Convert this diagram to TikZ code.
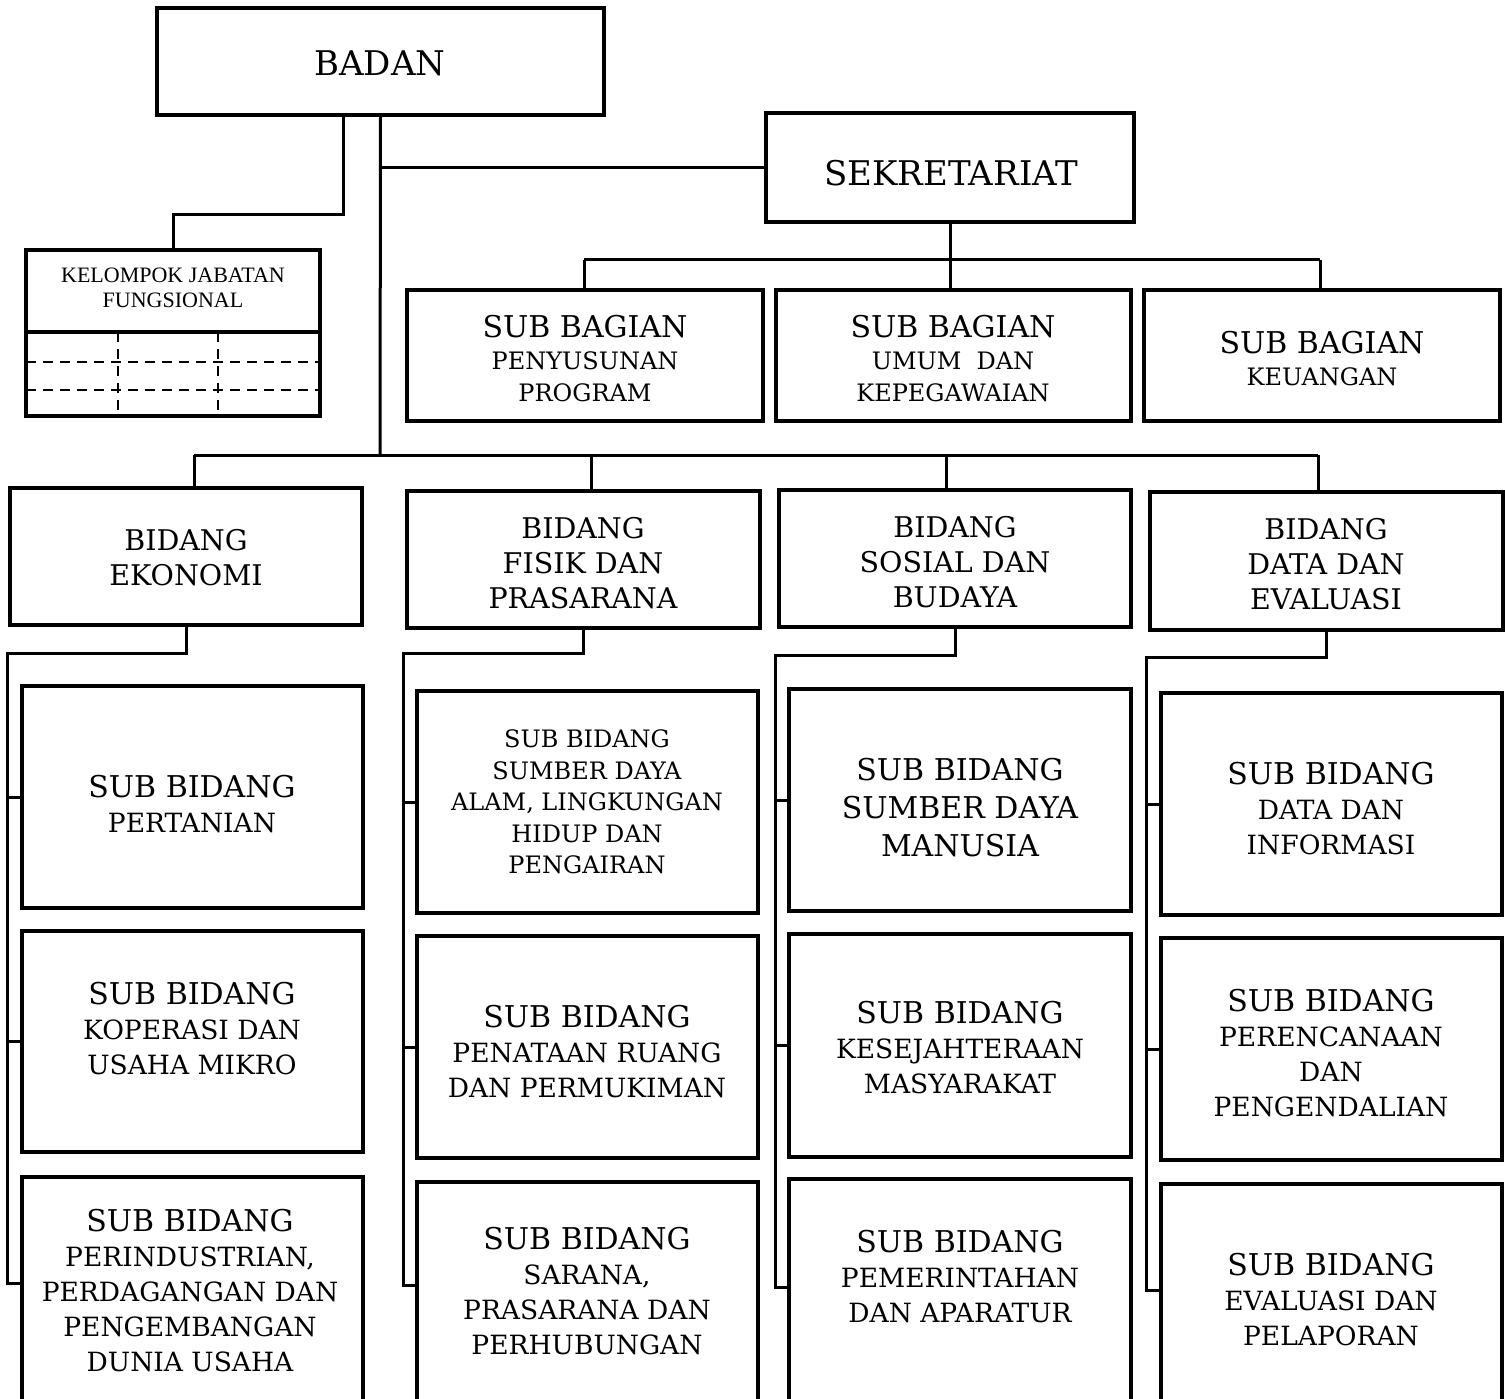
\documentclass[tikz,border=0pt]{standalone}
\usepackage{fontspec}
\setmainfont{DejaVu Serif}
\newfontfamily\kjffont{Liberation Serif}
\newcommand\orgbox[5]{\node[box, minimum width={(#4-#2)*1pt}, minimum height={(#5-#3)*1pt}] (#1) at ({(#2+#4)/2},{(#3+#5)/2}) {};}
\newcommand\fbig{\fontsize{30}{35}\selectfont}
\begin{document}
\begin{tikzpicture}[x=1pt,y=-1pt,
  box/.style={draw, rectangle, line width=3.5pt, inner sep=0pt, outer sep=0pt},
  conn/.style={line width=3pt},
  dline/.style={line width=2.4pt, dash pattern=on 10pt off 7pt},
  lbl/.style={align=center, inner sep=0pt, outer sep=0pt},
  f34/.style={font=\fontsize{34}{40}\selectfont},
  f28/.style={font=\fontsize{28.5}{35}\selectfont},
  f265/.style={font=\fontsize{26.5}{35}\selectfont},
  f24/.style={font=\fontsize{24}{32}\selectfont},
]
\useasboundingbox (0,0) rectangle (1505,1399);
\clip (0,0) rectangle (1505,1399);

% ---- boxes ----
\orgbox{badan}{157}{8}{604}{115}
\orgbox{sek}{766}{113}{1134}{222}
\orgbox{kjf}{26}{250}{320}{416}
\orgbox{sb1}{407}{290}{763}{421}
\orgbox{sb2}{776}{290}{1131}{421}
\orgbox{sb3}{1144}{290}{1500}{421}
\orgbox{b1}{10}{488}{362}{625}
\orgbox{b2}{407}{491}{760}{628}
\orgbox{b3}{779}{490}{1131}{627}
\orgbox{b4}{1150}{492}{1503}{630}
\orgbox{s11}{22}{686}{363}{908}
\orgbox{s12}{22}{931}{363}{1152}
\orgbox{s13}{22}{1177}{363}{1420}
\orgbox{s21}{417}{691}{758}{913}
\orgbox{s22}{417}{936}{758}{1158}
\orgbox{s23}{417}{1182}{758}{1420}
\orgbox{s31}{789}{689}{1131}{911}
\orgbox{s32}{789}{934}{1131}{1157}
\orgbox{s33}{789}{1179}{1131}{1420}
\orgbox{s41}{1161}{693}{1502}{915}
\orgbox{s42}{1161}{938}{1502}{1160}
\orgbox{s43}{1161}{1184}{1502}{1420}

% ---- KJF inner grid ----
\coordinate (kg) at (26,332);
\draw[line width=3.5pt] (kg) -- (kg -| kjf.east);
\draw[dline] (26,362) -- (320,362);
\draw[dline] (26,390) -- (320,390);
\draw[dline] (118,332) -- (118,416);
\draw[dline] (218,332) -- (218,416);

% ---- texts ----
\node[lbl, f34] (tbadan) at (380,63) {BADAN};
\node[lbl, f34] (tsek) at (951,173) {SEKRETARIAT};
\node[lbl, font=\kjffont\fontsize{22}{25}\selectfont] (tkjf) at (173,288) {KELOMPOK JABATAN\\FUNGSIONAL};
\node[lbl, f24] (tsb1) at (585,359) {{\fontsize{30}{32}\selectfont SUB BAGIAN}\\PENYUSUNAN\\PROGRAM};
\node[lbl, f24] (tsb2) at (953,359) {{\fontsize{30}{32}\selectfont SUB BAGIAN}\\UMUM~~DAN\\KEPEGAWAIAN};
\node[lbl, f24] (tsb3) at (1322,359) {{\fontsize{30}{32}\selectfont SUB BAGIAN}\\KEUANGAN};
\node[lbl, f28] (tb1) at (186,558) {BIDANG\\EKONOMI};
\node[lbl, f28] (tb2) at (583,563) {BIDANG\\FISIK DAN\\PRASARANA};
\node[lbl, f28] (tb3) at (955,562) {BIDANG\\SOSIAL DAN\\BUDAYA};
\node[lbl, f28] (tb4) at (1326,564) {BIDANG\\DATA DAN\\EVALUASI};
\node[lbl, f265] (ts11) at (192,804) {{\fbig SUB BIDANG}\\PERTANIAN};
\node[lbl, f265] (ts12) at (192,1029) {{\fbig SUB BIDANG}\\KOPERASI DAN\\USAHA MIKRO};
\node[lbl, f265] (ts13) at (190,1291) {{\fbig SUB BIDANG}\\PERINDUSTRIAN,\\PERDAGANGAN DAN\\PENGEMBANGAN\\DUNIA USAHA};
\node[lbl, font=\fontsize{24}{31.5}\selectfont] (ts21) at (587,802) {SUB BIDANG\\SUMBER DAYA\\ALAM, LINGKUNGAN\\HIDUP DAN\\PENGAIRAN};
\node[lbl, f265] (ts22) at (587,1052) {{\fbig SUB BIDANG}\\PENATAAN RUANG\\DAN PERMUKIMAN};
\node[lbl, f265] (ts23) at (587,1291) {{\fbig SUB BIDANG}\\SARANA,\\PRASARANA DAN\\PERHUBUNGAN};
\node[lbl, font=\fontsize{30}{38}\selectfont] (ts31) at (960,808) {SUB BIDANG\\SUMBER DAYA\\MANUSIA};
\node[lbl, f265] (ts32) at (960,1048) {{\fbig SUB BIDANG}\\KESEJAHTERAAN\\MASYARAKAT};
\node[lbl, f265] (ts33) at (960,1277) {{\fbig SUB BIDANG}\\PEMERINTAHAN\\DAN APARATUR};
\node[lbl, f265] (ts41) at (1331,809) {{\fbig SUB BIDANG}\\DATA DAN\\INFORMASI};
\node[lbl, f265] (ts42) at (1331,1053) {{\fbig SUB BIDANG}\\PERENCANAAN\\DAN\\PENGENDALIAN};
\node[lbl, f265] (ts43) at (1331,1300) {{\fbig SUB BIDANG}\\EVALUASI DAN\\PELAPORAN};

% ---- connectors: top ----
\coordinate (kjfsrc) at ([xshift=186pt]badan.south west);
\draw[conn] (kjfsrc) |- ([yshift=35pt]kjf.north) -- (kjf.north);
\coordinate (bbar) at (380,455);
\draw[conn] (badan.south) -- (bbar);
\draw[conn] (badan.south |- sek.west) -- (sek.west);
\coordinate (sbar) at (950,260);
\draw[conn] (sek.south) -- (sek.south |- sbar);
\coordinate (e1) at ([xshift=-1pt]sb1.north);
\coordinate (e2) at ([xshift=-3pt]sb2.north);
\coordinate (e3) at ([xshift=-2pt]sb3.north);
\draw[conn] (e1 |- sbar) -- (e3 |- sbar);
\draw[conn] (e1 |- sbar) -- (e1);
\draw[conn] (e2 |- sbar) -- (e2);
\draw[conn] (e3 |- sbar) -- (e3);

% ---- connectors: bidang ----
\coordinate (d1) at ([xshift=8pt]b1.north);
\coordinate (d2) at ([xshift=7.5pt]b2.north);
\coordinate (d3) at ([xshift=-9pt]b3.north);
\coordinate (d4) at ([xshift=-8.5pt]b4.north);
\draw[conn] (d1 |- bbar) -- (d4 |- bbar);
\draw[conn] (d1 |- bbar) -- (d1);
\draw[conn] (d2 |- bbar) -- (d2);
\draw[conn] (d3 |- bbar) -- (d3);
\draw[conn] (d4 |- bbar) -- (d4);

% ---- connectors: sub bidang ----
\coordinate (tk1) at (7,653);   \coordinate (te1) at (7,1283);
\coordinate (tk2) at (403,653); \coordinate (te2) at (403,1285);
\coordinate (tk3) at (775,655); \coordinate (te3) at (775,1287);
\coordinate (tk4) at (1146,657);\coordinate (te4) at (1146,1290);
\draw[conn] (b1.south) |- (tk1) -- (te1) -- (te1 -| s13.west);
\draw[conn] (tk1 |- s11.west) -- (s11.west);
\draw[conn] (tk1 |- s12.west) -- (s12.west);
\draw[conn] (b2.south) |- (tk2) -- (te2) -- (te2 -| s23.west);
\draw[conn] (tk2 |- s21.west) -- (s21.west);
\draw[conn] (tk2 |- s22.west) -- (s22.west);
\draw[conn] (b3.south) |- (tk3) -- (te3) -- (te3 -| s33.west);
\draw[conn] (tk3 |- s31.west) -- (s31.west);
\draw[conn] (tk3 |- s32.west) -- (s32.west);
\draw[conn] (b4.south) |- (tk4) -- (te4) -- (te4 -| s43.west);
\draw[conn] (tk4 |- s41.west) -- (s41.west);
\draw[conn] (tk4 |- s42.west) -- (s42.west);
\end{tikzpicture}
\end{document}
